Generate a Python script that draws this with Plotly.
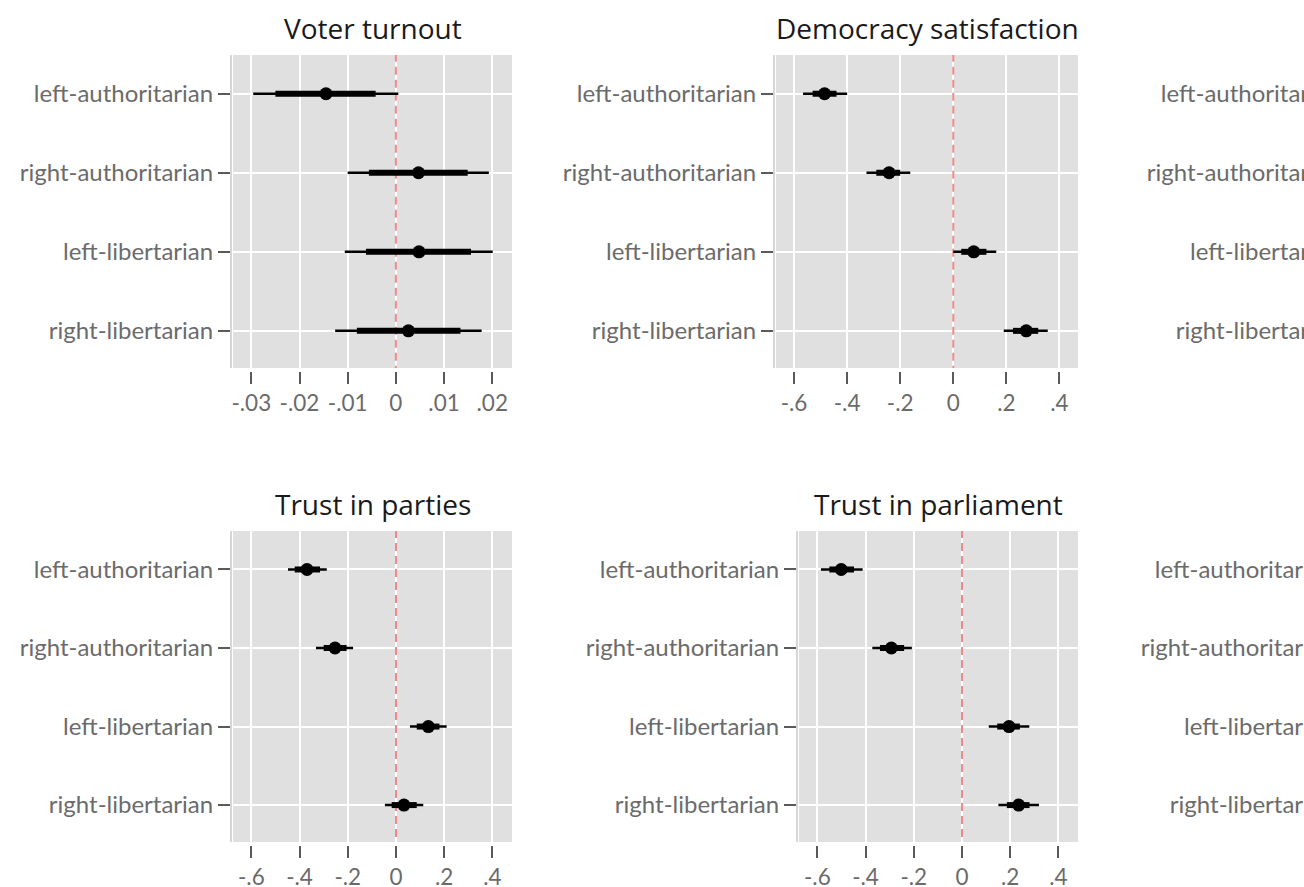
import plotly.graph_objects as go

# ---- data -----------------------------------------------------------------
categories = ["left-authoritarian", "right-authoritarian",
              "left-libertarian", "right-libertarian"]
row_pos = [1, 2, 3, 4]

# Voter turnout: point estimate, outer (thin) and inner (thick) intervals
turnout_est = [-0.0145, 0.0047, 0.0048, 0.0026]
turnout_lo_outer = [-0.0296, -0.0100, -0.0106, -0.0126]
turnout_hi_outer = [0.0005, 0.0193, 0.0201, 0.0178]
turnout_lo_inner = [-0.0250, -0.0056, -0.0062, -0.0081]
turnout_hi_inner = [-0.0042, 0.0149, 0.0156, 0.0134]

# Democracy satisfaction
demsat_est = [-0.485, -0.242, 0.077, 0.275]
demsat_lo_outer = [-0.566, -0.327, 0.000, 0.190]
demsat_hi_outer = [-0.400, -0.162, 0.162, 0.356]
demsat_lo_inner = [-0.530, -0.290, 0.030, 0.225]
demsat_hi_inner = [-0.440, -0.200, 0.125, 0.320]

# Trust in parties
parties_est = [-0.369, -0.253, 0.134, 0.033]
parties_lo_outer = [-0.448, -0.332, 0.058, -0.046]
parties_hi_outer = [-0.287, -0.178, 0.210, 0.113]
parties_lo_inner = [-0.420, -0.300, 0.086, -0.018]
parties_hi_inner = [-0.315, -0.205, 0.180, 0.086]

# Trust in parliament
parl_est = [-0.501, -0.293, 0.195, 0.235]
parl_lo_outer = [-0.585, -0.372, 0.111, 0.151]
parl_hi_outer = [-0.412, -0.208, 0.279, 0.319]
parl_lo_inner = [-0.550, -0.340, 0.146, 0.186]
parl_hi_inner = [-0.448, -0.240, 0.240, 0.280]

small_ticks = [-0.03, -0.02, -0.01, 0, 0.01, 0.02]
small_ticktext = ["-.03", "-.02", "-.01", "0", ".01", ".02"]
large_ticks = [-0.6, -0.4, -0.2, 0, 0.2, 0.4]
large_ticktext = ["-.6", "-.4", "-.2", "0", ".2", ".4"]

# ---- layout geometry (pixels) ----------------------------------------------
FIG_W, FIG_H = 1900, 887
BG = "#e0e0e0"
YLABEL_FONT = dict(family="Lato", size=24, color="#6b6b6b")
XLABEL_FONT = dict(family="Lato", size=22.5, color="#6b6b6b")
TITLE_FONT = dict(family="Open Sans", size=28, color="#1a1a1a")


def fx(p):
    return p / FIG_W


def fy(p):
    return 1 - p / FIG_H


panels = [
    dict(title="Voter turnout", box=(233, 55, 512, 368),
         est=turnout_est, lo_o=turnout_lo_outer, hi_o=turnout_hi_outer,
         lo_i=turnout_lo_inner, hi_i=turnout_hi_inner,
         xr=[-0.0338, 0.0241], tv=small_ticks, tt=small_ticktext),
    dict(title="Democracy satisfaction", box=(776, 55, 1078, 368),
         est=demsat_est, lo_o=demsat_lo_outer, hi_o=demsat_hi_outer,
         lo_i=demsat_lo_inner, hi_i=demsat_hi_inner,
         xr=[-0.668, 0.470], tv=large_ticks, tt=large_ticktext),
    dict(title=None, box=(1360, 55, 1640, 368),
         est=None, xr=[-0.676, 0.481], tv=large_ticks, tt=large_ticktext),
    dict(title="Trust in parties", box=(233, 531, 512, 842),
         est=parties_est, lo_o=parties_lo_outer, hi_o=parties_hi_outer,
         lo_i=parties_lo_inner, hi_i=parties_hi_inner,
         xr=[-0.676, 0.481], tv=large_ticks, tt=large_ticktext),
    dict(title="Trust in parliament", box=(799, 531, 1078, 842),
         est=parl_est, lo_o=parl_lo_outer, hi_o=parl_hi_outer,
         lo_i=parl_lo_inner, hi_i=parl_hi_inner,
         xr=[-0.676, 0.481], tv=large_ticks, tt=large_ticktext),
    dict(title=None, box=(1354, 531, 1634, 842),
         est=None, xr=[-0.676, 0.481], tv=large_ticks, tt=large_ticktext),
]


def segments(lo, hi, rows):
    xs, ys = [], []
    for a, b, r in zip(lo, hi, rows):
        xs += [a, b, None]
        ys += [r, r, None]
    return xs, ys


fig = go.Figure()
layout = dict(
    width=FIG_W, height=FIG_H,
    margin=dict(l=0, r=0, t=0, b=0, autoexpand=False),
    paper_bgcolor="white", plot_bgcolor=BG,
    showlegend=False, annotations=[],
)

for i, p in enumerate(panels, start=1):
    xa, ya = f"x{i}", f"y{i}"
    left, top, right, bottom = p["box"]

    # zero reference line
    fig.add_trace(go.Scatter(
        x=[0, 0], y=[0, 5], mode="lines", xaxis=xa, yaxis=ya,
        line=dict(color="#f08a8a", width=2, dash="8px,5px"),
        hoverinfo="skip"))

    if p["est"] is not None:
        xs, ys = segments(p["lo_o"], p["hi_o"], row_pos)
        fig.add_trace(go.Scatter(x=xs, y=ys, mode="lines", xaxis=xa, yaxis=ya,
                                 line=dict(color="black", width=2.5)))
        xs, ys = segments(p["lo_i"], p["hi_i"], row_pos)
        fig.add_trace(go.Scatter(x=xs, y=ys, mode="lines", xaxis=xa, yaxis=ya,
                                 line=dict(color="black", width=6)))
        fig.add_trace(go.Scatter(x=p["est"], y=row_pos, mode="markers",
                                 xaxis=xa, yaxis=ya,
                                 marker=dict(color="black", size=13)))

    sfx = "" if i == 1 else str(i)
    layout[f"xaxis{sfx}"] = dict(
        domain=[fx(left), fx(right)], range=p["xr"],
        anchor="free", position=fy(bottom + 3), side="bottom",
        tickvals=p["tv"], ticktext=p["tt"], tickfont=XLABEL_FONT,
        ticks="outside", ticklen=12, tickwidth=2, tickcolor="#5a5a5a",
        showgrid=True, gridcolor="white", gridwidth=2,
        zeroline=False, showline=False, fixedrange=True,
    )
    layout[f"yaxis{sfx}"] = dict(
        domain=[fy(bottom), fy(top)], range=[4.47, 0.51],
        anchor="free", position=fx(left - 2), side="left",
        tickvals=row_pos, ticktext=categories, tickfont=YLABEL_FONT,
        ticks="outside", ticklen=12, tickwidth=2, tickcolor="#5a5a5a",
        showgrid=True, gridcolor="white", gridwidth=2,
        zeroline=False, showline=True, linecolor="#d6d6d6", linewidth=2,
        fixedrange=True,
    )
    if p["title"]:
        layout["annotations"].append(dict(
            text=p["title"], x=fx((left + right) / 2), y=fy(top - 27),
            xref="paper", yref="paper", xanchor="center", yanchor="middle",
            showarrow=False, font=TITLE_FONT))

fig.update_layout(**layout)

fig.write_html(
    "out.html",
    post_script="document.documentElement.style.overflow='hidden';"
                "document.body.style.overflow='hidden';",
)
